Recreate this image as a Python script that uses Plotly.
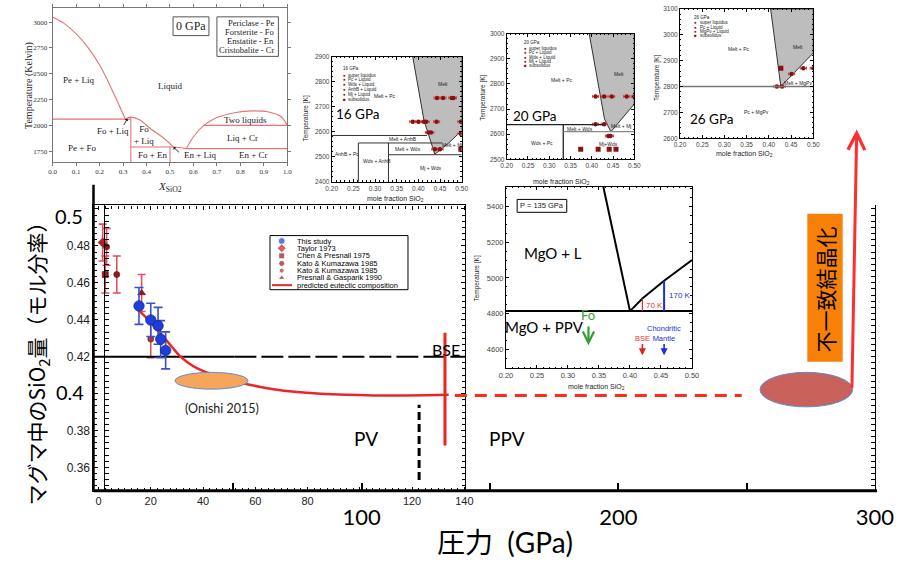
import plotly.graph_objects as go

# ============================ DATA ============================
# --- main chart: SiO2 mole fraction of eutectic melt vs. pressure (GPa)
this_study_P = [15.5, 20.0, 22.8, 23.8, 25.7]
this_study_X = [0.4475, 0.4399, 0.4367, 0.4295, 0.4234]
this_study_err = [0.010, 0.009, 0.010, 0.010, 0.010]
taylor_P = [1.6]
taylor_X = [0.4818]
taylor_err = [0.010]
chen_P = [2.6]
chen_X = [0.4645]
chen_err = [0.010]
kato1_P = [3.1, 7.0]
kato1_X = [0.4795, 0.4645]
kato1_err = [0.010, 0.010]
kato2_P = [20.0]
kato2_X = [0.4295]
kato2_err = [0.010]
presnall_P = [16.5]
presnall_X = [0.4545]
presnall_err = [0.010]
eutectic_P = [16, 18, 20, 22, 25, 28, 31, 34, 38, 42, 46, 50, 57, 62, 67, 75, 85, 95, 105, 115, 125, 134]
eutectic_X = [0.4443, 0.4415, 0.4385, 0.4355, 0.4305, 0.4255, 0.4205, 0.4170, 0.4135, 0.4112, 0.4092,
              0.4075, 0.4051, 0.4036, 0.4024, 0.4010, 0.3999, 0.3993, 0.3990, 0.3990, 0.3991, 0.3993]
BSE_X = 0.42
BSE_split_P = 52
PV_PPV_P = [122.7, 122.7]
PV_PPV_X = [0.3532, 0.3939]
CMB_P = [132.6, 132.6]
CMB_X = [0.3719, 0.4329]
extrap_P = [136.3, 248.1]
extrap_X = [0.3989, 0.3989]
onishi_P = [29.3, 57.2]
onishi_X = [0.4024, 0.4115]
red_ellipse_P = [255.2, 291.3]
red_ellipse_X = [0.3928, 0.4115]
arrow_P = [291.0, 292.9]
arrow_X = [0.4024, 0.5431]

inner_ticks = [0, 20, 40, 60, 80, 100, 120, 140]
inner_ticktext = ['0', '20', '40', '60', '80', '', '120', '140']
outer_ticks = [50, 100, 150, 200, 250, 300]
outer_ticktext = ['', '100', '', '200', '', '300']
y_ticks = [0.36, 0.38, 0.40, 0.42, 0.44, 0.46, 0.48, 0.50]
y_ticktext = ['0.36', '0.38', '', '0.42', '0.44', '0.46', '0.48', '']
legend_names = ['This study', 'Taylor 1973', 'Chen & Presnall 1975', 'Kato & Kumazawa 1985',
                'Kato & Kumazawa 1985', 'Presnall & Gasparik 1990', 'predicted eutectic composition']

# --- inset 0 GPa (MgO-SiO2 phase diagram)
g0_peliq_X = [0.0, 0.05, 0.10, 0.15, 0.20, 0.25, 0.31]
g0_peliq_T = [3050, 2985, 2885, 2755, 2584, 2358, 2060]
g0_foliq_X = [0.31, 0.333, 0.37, 0.42, 0.47, 0.515]
g0_foliq_T = [2060, 2080, 2055, 1962, 1882, 1790]
g0_enliq_X = [0.515, 0.54, 0.57]
g0_enliq_T = [1790, 1786, 1775]
g0_crliq_X = [0.57, 0.60, 0.642, 0.70, 0.78, 0.85, 0.92, 0.97, 1.0]
g0_crliq_T = [1775, 1890, 1995, 2075, 2125, 2140, 2130, 2090, 2000]
g0_T_range = [1645, 3137]
g0_bound_X = [0, 0.333, None, 0.333, 0.333, None, 0.333, 0.515, None, 0.5, 0.5, None, 0.57, 1.0, None, 0.642, 1.0]
g0_bound_T = [2060, 2060, None, 2080, 1645, None, 1790, 1790, None, 1790, 1645, None, 1775, 1775, None, 2000, 2000]

# --- inset 16 GPa
g16_melt_X = [0.387, 0.5, 0.5, 0.47, 0.438, 0.413, 0.387]
g16_melt_T = [2900, 2900, 2605, 2555, 2510, 2645, 2900]
g16_bound_X = [0.2, 0.42, None, 0.2615, 0.455, None, 0.331, 0.5, None, 0.2615, 0.2615, None, 0.331, 0.331]
g16_bound_T = [2585, 2585, None, 2555, 2555, None, 2508, 2508, None, 2555, 2400, None, 2555, 2400]
g16_pts_X = [0.443, 0.457, 0.477, 0.481, 0.387, 0.400, 0.413, 0.418, 0.442, 0.498, 0.423, 0.429, 0.438, 0.450, 0.498]
g16_pts_T = [2735, 2735, 2735, 2735, 2640, 2640, 2640, 2640, 2640, 2640, 2597, 2597, 2530, 2530, 2592]
g16_sub_X = [0.498]
g16_sub_T = [2530]

# --- inset 20 GPa
g20_melt_X = [0.394, 0.5, 0.5, 0.445, 0.43, 0.394]
g20_melt_T = [3000, 3000, 2720, 2610, 2660, 3000]
g20_bound_X = [0.2, 0.43, None, 0.333, 0.333]
g20_bound_T = [2638, 2638, None, 2638, 2500]
g20_bound2_X = [0.333, 0.5]
g20_bound2_T = [2610, 2610]
g20_pts_X = [0.409, 0.429, 0.447, 0.482, 0.5, 0.409, 0.429, 0.439, 0.444]
g20_pts_T = [2750, 2750, 2750, 2750, 2750, 2640, 2640, 2593, 2593]
g20_sub_X = [0.374, 0.415, 0.441, 0.457]
g20_sub_T = [2540, 2540, 2540, 2540]

# --- inset 26 GPa
g26_melt_X = [0.404, 0.5, 0.5, 0.427, 0.404]
g26_melt_T = [3100, 3100, 2930, 2800, 3100]
g26_solidus_T = 2800
g26_pts_X = [0.5, 0.4775, 0.451, 0.418, 0.430]
g26_pts_T = [2871, 2871, 2849, 2800, 2800]
g26_sub_X = [0.427]
g26_sub_T = [2871]

# --- inset 135 GPa
g135_liqL_X = [0.357, 0.40]
g135_liqL_T = [5510, 4815]
g135_liqR_X = [0.40, 0.42, 0.455, 0.5]
g135_liqR_T = [4815, 4885, 4985, 5100]
g135_solidus_T = 4815
g135_bse_X = 0.42
g135_bse_T = 4885
g135_chond_X = 0.455
g135_chond_T = 4985
g135_fo_X = 0.333

ins_x_ticks = [0.20, 0.25, 0.30, 0.35, 0.40, 0.45, 0.50]

# ============================ HELPERS ============================
W, H = 912, 563
# horizontal placement calibration of the page capture
X_OFF, X_SCALE = 7.0, 0.9715


def PX(x):
    return (x - X_OFF) / (X_SCALE * W)


def PY(y):
    return 1 - y / H


def XD(a, b):
    return [PX(a), PX(b)]


def YD(top, bot):
    return [1 - bot / H, 1 - top / H]


SANS = "Liberation Sans, Arial, sans-serif"
SERIF = "Liberation Serif, Times New Roman, serif"
SLIDE = "Lato, Noto Sans CJK JP, sans-serif"
CJK = "Noto Sans CJK JP, sans-serif"

fig = go.Figure()
annotations = []
shapes = []


def A(text, x, y, xref='paper', yref='paper', size=10, color='black', family=SANS, **kw):
    d = dict(text=text, x=x, y=y, xref=xref, yref=yref, showarrow=False,
             xanchor='center', yanchor='middle',
             font=dict(size=size, color=color, family=family))
    d.update(kw)
    annotations.append(d)


def line_tr(x, y, xa, ya, color='black', width=1, dash='solid', shape='linear'):
    fig.add_trace(go.Scatter(x=x, y=y, mode='lines', xaxis=xa, yaxis=ya, hoverinfo='skip',
                             line=dict(color=color, width=width, dash=dash, shape=shape),
                             showlegend=False))


# ============================ MAIN CHART ============================
RED_M = '#8E1B1B'
RED_E = '#E0505E'


def err_pts(P, X, E, symbol, size, color, ecolor):
    fig.add_trace(go.Scatter(
        x=P, y=X, mode='markers', xaxis='x', yaxis='y', showlegend=False,
        marker=dict(symbol=symbol, size=size, color=color, line=dict(width=0.6, color='#5a0d0d')),
        error_y=dict(type='data', array=E, visible=True, color=ecolor, thickness=1.6, width=4)))


err_pts(taylor_P, taylor_X, taylor_err, 'diamond', 7, '#B52020', RED_E)
err_pts(chen_P, chen_X, chen_err, 'square', 6, RED_M, RED_E)
err_pts(kato1_P, kato1_X, kato1_err, 'circle', 6, RED_M, RED_E)
err_pts(kato2_P, kato2_X, kato2_err, 'circle', 6, '#A33A3A', RED_E)
err_pts(presnall_P, presnall_X, presnall_err, 'triangle-up', 7, RED_M, RED_E)

xr_main = [-1.91, 140.45]
yr_main = [0.3473, 0.5019]
# BSE line
line_tr([xr_main[0], BSE_split_P], [BSE_X, BSE_X], 'x', 'y', 'black', 2)
line_tr([BSE_split_P, xr_main[1]], [BSE_X, BSE_X], 'x', 'y', 'black', 2, dash='22px,5px')
# predicted eutectic composition
line_tr(eutectic_P, eutectic_X, 'x', 'y', '#E8262B', 2.5, shape='spline')
# this study
fig.add_trace(go.Scatter(
    x=this_study_P, y=this_study_X, mode='markers', xaxis='x', yaxis='y', showlegend=False,
    marker=dict(symbol='circle', size=10.5, color='#1F3DD8', line=dict(width=0.6, color='#10208a')),
    error_y=dict(type='data', array=this_study_err, visible=True, color='#3A50C8', thickness=1.6, width=4.5)))
# PV/PPV boundary and CMB lines
line_tr(PV_PPV_P, PV_PPV_X, 'x', 'y', 'black', 3, dash='8px,4px')
line_tr(CMB_P, CMB_X, 'x', 'y', '#F0231C', 3)
# extrapolation (outer pressure axis)
line_tr(extrap_P, extrap_X, 'x2', 'y', '#FF2A1A', 3, dash='12px,8px')

# ellipses
shapes.append(dict(type='circle', xref='x', yref='y', x0=onishi_P[0], x1=onishi_P[1],
                   y0=onishi_X[0], y1=onishi_X[1], fillcolor='#F6A55A',
                   line=dict(color='#5B8ED6', width=1)))
shapes.append(dict(type='circle', xref='x2', yref='y', x0=red_ellipse_P[0], x1=red_ellipse_P[1],
                   y0=red_ellipse_X[0], y1=red_ellipse_X[1], fillcolor='#C9625A',
                   line=dict(color='#5B8ED6', width=1)))
# arrow
annotations.append(dict(x=arrow_P[1], y=arrow_X[1], ax=arrow_P[0], ay=arrow_X[0],
                        xref='x2', yref='y', axref='x2', ayref='y', text='', showarrow=True,
                        arrowhead=5, arrowsize=1.1, arrowwidth=3, arrowcolor='#FF2E2E', standoff=0))
# orange box with vertical text
shapes.append(dict(type='rect', xref='paper', yref='paper', x0=PX(807.3), x1=PX(842.7),
                   y0=PY(362.3), y1=PY(212.3), fillcolor='#F98006', line=dict(width=0)))
A('不一致結晶化', PX(825), PY(289), size=21, family=CJK, textangle=-90)

# thick axes lines of the slide
shapes.append(dict(type='line', xref='paper', yref='paper', x0=PX(93.5), x1=PX(93.5),
                   y0=PY(183), y1=PY(493), line=dict(color='black', width=2.5)))
shapes.append(dict(type='line', xref='paper', yref='paper', x0=PX(93.5), x1=PX(877),
                   y0=PY(493), y1=PY(493), line=dict(color='black', width=3)))

# main text
A('0.5', PX(69), PY(215), size=20, family=SLIDE)
A('0.4', PX(70), PY(393), size=20, family=SLIDE)
A('BSE', PX(446), PY(350), size=16, family=SLIDE)
A('PV', PX(366), PY(440), size=19, family=SLIDE)
A('PPV', PX(507), PY(440), size=19, family=SLIDE)
A('(Onishi 2015)', PX(222), PY(410), size=12.5, family=SLIDE, color='#222')
A('マグマ中のSiO<sub>2</sub>量（モル分率）', PX(37), PY(359), size=21, family=CJK, textangle=-90)
A('圧力  (GPa)', PX(505), PY(545), size=28, family=SLIDE)

# manual legend
shapes.append(dict(type='rect', xref='paper', yref='paper', x0=PX(270), x1=PX(408),
                   y0=PY(289.3), y1=PY(234.5), line=dict(color='black', width=1), fillcolor='white',
                   layer='below'))
leg_rows = [240, 247.3, 255, 262.7, 270, 277.3, 284.7]
fig.add_trace(go.Scatter(
    x=[281.7] * 6, y=leg_rows[:6], mode='markers', xaxis='x8', yaxis='y8', showlegend=False,
    marker=dict(symbol=['circle', 'diamond', 'square', 'circle', 'circle', 'triangle-up'],
                size=[7, 7, 6, 6, 5, 6],
                color=['#1F3DD8', '#C0201E', RED_M, RED_M, '#A33A3A', RED_M])))
line_tr([272, 292], [leg_rows[6], leg_rows[6]], 'x8', 'y8', '#E8262B', 2)
for name, r in zip(legend_names, leg_rows):
    A(name, PX(295), PY(r), size=7.5, family=SANS, xanchor='left')

# ============================ INSETS ============================
GRAY = '#BDBDBD'
TXT = '#222'

# ---- 0 GPa
PINK = '#E57373'
line_tr(g0_peliq_X, g0_peliq_T, 'x3', 'y3', PINK, 1.1, shape='spline')
line_tr(g0_foliq_X, g0_foliq_T, 'x3', 'y3', PINK, 1.1, shape='spline')
line_tr(g0_enliq_X, g0_enliq_T, 'x3', 'y3', PINK, 1.1, shape='spline')
line_tr(g0_crliq_X, g0_crliq_T, 'x3', 'y3', PINK, 1.1, shape='spline')
line_tr(g0_bound_X, g0_bound_T, 'x3', 'y3', PINK, 1.1)
for t, x, y in [('Pe + Liq', 0.112, 2438), ('Liquid', 0.50, 2380), ('Fo + Liq', 0.255, 1949),
                ('Fo<br>+ Liq', 0.39, 1906), ('Pe + Fo', 0.125, 1777), ('Fo + En', 0.428, 1710),
                ('En + Liq', 0.63, 1710), ('En + Cr', 0.854, 1710), ('Two liquids', 0.82, 2055),
                ('Liq + Cr', 0.807, 1873)]:
    A(t, x, y, 'x3', 'y3', size=9, family=SERIF, color=TXT)
annotations.append(dict(x=0.318, y=2065, ax=0.30, ay=1990, xref='x3', yref='y3', axref='x3', ayref='y3',
                        text='', showarrow=True, arrowhead=1, arrowsize=0.8, arrowwidth=0.8,
                        arrowcolor='black'))
annotations.append(dict(x=0.515, y=1788, ax=0.545, ay=1725, xref='x3', yref='y3', axref='x3', ayref='y3',
                        text='', showarrow=True, arrowhead=1, arrowsize=0.8, arrowwidth=0.8,
                        arrowcolor='black'))
shapes.append(dict(type='rect', xref='x3', yref='y3', x0=0.513, x1=0.666, y0=2869, y1=3051,
                   line=dict(color='#555', width=1)))
A('0 GPa', 0.59, 2960, 'x3', 'y3', size=12, family=SERIF, color=TXT)
shapes.append(dict(type='rect', xref='x3', yref='y3', x0=0.70, x1=0.962, y0=2668, y1=3051,
                   line=dict(color='#555', width=1)))
for t, T in [('Periclase - Pe', 2993), ('Forsterite - Fo', 2907), ('Enstatite - En', 2816),
             ('Cristobalite - Cr', 2725)]:
    A(t, 0.952, T, 'x3', 'y3', size=8.5, family=SERIF, color=TXT, xanchor='right')
A('Temperature (Kelvin)', PX(29), PY(82), size=10, family=SERIF, color=TXT, textangle=-90)
A('<i>X</i><sub>SiO2</sub>', PX(170), PY(185), size=11, family=SERIF, color=TXT)


def phase_inset(n, melt_X, melt_T, pts_X, pts_T, sub_X, sub_T):
    fig.add_trace(go.Scatter(x=melt_X, y=melt_T, mode='lines', fill='toself', fillcolor=GRAY,
                             line=dict(color='#333', width=1), xaxis='x%d' % n, yaxis='y%d' % n,
                             showlegend=False, hoverinfo='skip'))
    fig.add_trace(go.Scatter(x=pts_X, y=pts_T, mode='markers', xaxis='x%d' % n, yaxis='y%d' % n,
                             showlegend=False,
                             marker=dict(symbol='circle', size=4.5, color='#8B1010'),
                             error_x=dict(type='constant', value=0.007, color='#D04545',
                                          thickness=1, width=1.5)))
    fig.add_trace(go.Scatter(x=sub_X, y=sub_T, mode='markers', xaxis='x%d' % n, yaxis='y%d' % n,
                             showlegend=False,
                             marker=dict(symbol='square', size=5, color='#8B1010')))


def inset_legend(n, x, header_T, rows_T, labels):
    A(header_T[0], x, header_T[1], 'x%d' % n, 'y%d' % n, size=4.5, color=TXT, xanchor='left')
    for lab, T in zip(labels, rows_T):
        A('■' if lab == 'subsolidus' else '●', x, T, 'x%d' % n, 'y%d' % n, size=4.5, color='#8B1010',
          xanchor='left')
        A(lab, x + 0.012, T, 'x%d' % n, 'y%d' % n, size=4.5, color=TXT, xanchor='left')


# ---- 16 GPa
phase_inset(4, g16_melt_X, g16_melt_T, g16_pts_X, g16_pts_T, g16_sub_X, g16_sub_T)
line_tr(g16_bound_X, g16_bound_T, 'x4', 'y4', '#333', 1)
for t, x, y in [('Melt', 0.458, 2792), ('Melt + Pc', 0.323, 2742), ('Melt + AnhB', 0.365, 2571),
                ('Melt + Wds', 0.377, 2532), ('Melt + Mj', 0.477, 2547), ('AnhB + Pc', 0.235, 2512),
                ('Wds + AnhB', 0.304, 2482), ('Mj + Wds', 0.427, 2453)]:
    A(t, x, y, 'x4', 'y4', size=5, color=TXT)
inset_legend(4, 0.222, ('16 GPa', 2854), [2825, 2807, 2787, 2768, 2749, 2730],
             ['super liquidus', 'Pc + Liquid', 'Wds + Liquid', 'AnhB + Liquid', 'Mj + Liquid', 'subsolidus'])
A('16 GPa', 0.26, 2670, 'x4', 'y4', size=13.5, family=SLIDE)
A('Temperature [K]', PX(306), PY(116), size=6.5, color=TXT, textangle=-90)
A('mole fraction SiO<sub>2</sub>', PX(396), PY(197), size=7, color=TXT)

# ---- 20 GPa
phase_inset(5, g20_melt_X, g20_melt_T, g20_pts_X, g20_pts_T, g20_sub_X, g20_sub_T)
line_tr(g20_bound_X, g20_bound_T, 'x5', 'y5', '#222', 1.3)
line_tr(g20_bound2_X, g20_bound2_T, 'x5', 'y5', '#888', 1.3)
for t, x, y in [('Melt', 0.465, 2840), ('Melt + Pc', 0.329, 2814), ('Melt + Wds', 0.372, 2622),
                ('Melt + Mj', 0.468, 2633), ('Wds + Pc', 0.282, 2565), ('Mj+Wds', 0.439, 2562)]:
    A(t, x, y, 'x5', 'y5', size=5, color=TXT)
inset_legend(5, 0.235, ('20 GPa', 2963), [2941, 2924, 2907, 2889, 2872],
             ['super liquidus', 'Pc + Liquid', 'Wds + Liquid', 'Mj + Liquid', 'subsolidus'])
A('20 GPa', 0.2665, 2673, 'x5', 'y5', size=13.5, family=SLIDE)
A('Temperature [K]', PX(483), PY(95), size=6.5, color=TXT, textangle=-90)
A('mole fraction SiO<sub>2</sub>', PX(562), PY(180), size=7, color=TXT)

# ---- 26 GPa
phase_inset(6, g26_melt_X, g26_melt_T, g26_pts_X, g26_pts_T, g26_sub_X, g26_sub_T)
line_tr([0.2, 0.5], [g26_solidus_T, g26_solidus_T], 'x6', 'y6', '#777', 1.5)
for t, x, y in [('Melt', 0.466, 2954), ('Melt + Pc', 0.331, 2947), ('Melt + MgPv', 0.466, 2814),
                ('Pc + MgPv', 0.372, 2702)]:
    A(t, x, y, 'x6', 'y6', size=5, color=TXT)
inset_legend(6, 0.228, ('26 GPa', 3066), [3047, 3030, 3013, 2997],
             ['super liquidus', 'Pc + Liquid', 'MgPv + Liquid', 'subsolidus'])
A('26 GPa', 0.271, 2674, 'x6', 'y6', size=13.5, family=SLIDE)
A('Temperature [K]', PX(657), PY(75), size=6.5, color=TXT, textangle=-90)
A('mole fraction SiO<sub>2</sub>', PX(745), PY(152), size=7, color=TXT)

# ---- 135 GPa
line_tr(g135_liqL_X, g135_liqL_T, 'x7', 'y7', 'black', 2)
line_tr(g135_liqR_X, g135_liqR_T, 'x7', 'y7', 'black', 2)
line_tr([0.2, 0.5], [g135_solidus_T, g135_solidus_T], 'x7', 'y7', 'black', 2)
line_tr([g135_bse_X, g135_bse_X], [g135_solidus_T, g135_bse_T], 'x7', 'y7', '#E0303A', 1.2)
line_tr([g135_chond_X, g135_chond_X], [g135_solidus_T, g135_chond_T], 'x7', 'y7', '#1A2FE0', 2)
A('70 K', 0.423, 4848, 'x7', 'y7', size=8, color='#E0303A', xanchor='left')
A('170 K', 0.459, 4905, 'x7', 'y7', size=8, color='#2233CC', xanchor='left')
A('MgO + L', 0.276, 5141, 'x7', 'y7', size=15, family=SLIDE)
A('MgO + PPV', 0.262, 4727, 'x7', 'y7', size=15, family=SLIDE)
A('Fo', g135_fo_X, 4792, 'x7', 'y7', size=13, family=SLIDE, color='#35A335')
annotations.append(dict(x=g135_fo_X, y=4625, ax=g135_fo_X, ay=4738, xref='x7', yref='y7', axref='x7',
                        ayref='y7', text='', showarrow=True, arrowhead=5, arrowsize=1, arrowwidth=2.2,
                        arrowcolor='#2E9E2E', standoff=0))
annotations.append(dict(x=g135_bse_X, y=4568, ax=g135_bse_X, ay=4640, xref='x7', yref='y7', axref='x7',
                        ayref='y7', text='', showarrow=True, arrowhead=2, arrowsize=0.9, arrowwidth=1.6,
                        arrowcolor='#E0202A', standoff=0))
annotations.append(dict(x=g135_chond_X, y=4568, ax=g135_chond_X, ay=4640, xref='x7', yref='y7', axref='x7',
                        ayref='y7', text='', showarrow=True, arrowhead=2, arrowsize=0.9, arrowwidth=1.6,
                        arrowcolor='#1A2FE0', standoff=0))
A('BSE', g135_bse_X, 4660, 'x7', 'y7', size=7.5, color='#E0303A')
A('Chondritic<br>Mantle', g135_chond_X, 4690, 'x7', 'y7', size=7.5, color='#2233CC')
shapes.append(dict(type='rect', xref='x7', yref='y7', x0=0.218, x1=0.298, y0=5367, y1=5439,
                   line=dict(color='black', width=1)))
A('P = 135 GPa', 0.258, 5403, 'x7', 'y7', size=7.5, color=TXT)
A('Temperature [K]', PX(477), PY(278), size=6.5, color=TXT, textangle=-90)
A('mole fraction SiO<sub>2</sub>', PX(597), PY(388), size=7, color=TXT)

# ============================ AXES ============================
AXCOM = dict(showgrid=False, zeroline=False)


def ins_axis(dom, rng, anchor, tickvals, ticktext, fsize=6.5, family=SANS, ticks='inside',
             minor=None, linecolor='black', color='#444'):
    d = dict(domain=dom, range=rng, anchor=anchor, tickmode='array', tickvals=tickvals,
             ticktext=ticktext, ticks=ticks, ticklen=3, tickcolor=linecolor, showline=True,
             linecolor=linecolor, linewidth=1, mirror='allticks',
             tickfont=dict(family=family, size=fsize, color=color), **AXCOM)
    if minor:
        d['minor'] = minor
    return d


ins_xt = ['%.2f' % v for v in ins_x_ticks]
mnx = dict(dtick=0.01, tick0=0.2, ticks='inside', ticklen=1.5, tickcolor='black')

layout_axes = dict(
    xaxis=dict(domain=XD(93.5, 465.5), range=xr_main, anchor='y', tickmode='array',
               tickvals=inner_ticks, ticktext=inner_ticktext, ticks='inside', ticklen=4,
               tickcolor='black', minor=dict(dtick=2.5, tick0=0, ticks='inside', ticklen=3,
                                             tickcolor='black'),
               showline=True, linecolor='black', linewidth=1.2, mirror='allticks',
               tickfont=dict(family=SANS, size=11, color='#222'), **AXCOM),
    yaxis=dict(domain=YD(204, 493), range=yr_main, anchor='x', tickmode='array',
               tickvals=y_ticks, ticktext=y_ticktext, ticks='inside', ticklen=4, tickcolor='black',
               minor=dict(dtick=0.02 / 6, tick0=0.36, ticks='inside', ticklen=3, tickcolor='black'),
               showline=True, linecolor='black', linewidth=1.2, mirror='allticks',
               tickfont=dict(family=SANS, size=12, color='#222'), **AXCOM),
    xaxis2=dict(domain=XD(105, 875), range=[0, 300], anchor='y', tickmode='array',
                tickvals=outer_ticks, ticktext=outer_ticktext, ticks='inside', ticklen=8, tickwidth=2,
                tickcolor='black', showline=False, ticklabelstandoff=11,
                tickfont=dict(family=SLIDE, size=22, color='black'), **AXCOM),
    xaxis3=ins_axis(XD(52.7, 287.3), [0, 1], 'y3', [i / 10 for i in range(11)],
                    ['%.1f' % (i / 10) for i in range(11)], fsize=7, family=SERIF, ticks='outside',
                    linecolor='#777', color='#333'),
    yaxis3=ins_axis(YD(4, 160), g0_T_range, 'x3', [1750, 2000, 2250, 2500, 2750, 3000],
                    ['1750', '2000', '2250', '2500', '2750', '3000'], fsize=7, family=SERIF,
                    ticks='outside', linecolor='#777', color='#333'),
    xaxis4=ins_axis(XD(331.7, 461.7), [0.2, 0.5], 'y4', ins_x_ticks, ins_xt, minor=mnx),
    yaxis4=ins_axis(YD(53.3, 180), [2400, 2900], 'x4', list(range(2400, 2901, 100)),
                    [str(v) for v in range(2400, 2901, 100)],
                    minor=dict(dtick=20, ticks='inside', ticklen=1.5, tickcolor='black')),
    xaxis5=ins_axis(XD(506.7, 634.3), [0.2, 0.5], 'y5', ins_x_ticks, ins_xt, minor=mnx),
    yaxis5=ins_axis(YD(30, 157.3), [2500, 3000], 'x5', list(range(2500, 3001, 100)),
                    [str(v) for v in range(2500, 3001, 100)],
                    minor=dict(dtick=20, ticks='inside', ticklen=1.5, tickcolor='black')),
    xaxis6=ins_axis(XD(680, 813.3), [0.2, 0.5], 'y6', ins_x_ticks, ins_xt, minor=mnx),
    yaxis6=ins_axis(YD(5, 136), [2600, 3100], 'x6', list(range(2600, 3101, 100)),
                    [str(v) for v in range(2600, 3101, 100)],
                    minor=dict(dtick=20, ticks='inside', ticklen=1.5, tickcolor='black')),
    xaxis7=ins_axis(XD(506, 692), [0.2, 0.5], 'y7', ins_x_ticks, ins_xt, fsize=7.5, minor=mnx),
    yaxis7=ins_axis(YD(185, 369), [4495, 5510], 'x7', [4600, 4800, 5000, 5200, 5400],
                    ['4600', '4800', '5000', '5200', '5400'], fsize=7.5,
                    minor=dict(dtick=50, ticks='inside', ticklen=1.5, tickcolor='black')),
    xaxis8=dict(domain=[0, 1], range=[X_OFF, X_OFF + X_SCALE * W], anchor='y8', visible=False, **AXCOM),
    yaxis8=dict(domain=[0, 1], range=[H, 0], anchor='x8', visible=False, **AXCOM),
)

fig.update_layout(
    width=W, height=H, margin=dict(l=0, r=0, t=0, b=0),
    paper_bgcolor='white', plot_bgcolor='rgba(0,0,0,0)', showlegend=False,
    annotations=annotations, shapes=shapes, **layout_axes)

fig.write_html("out.html")
